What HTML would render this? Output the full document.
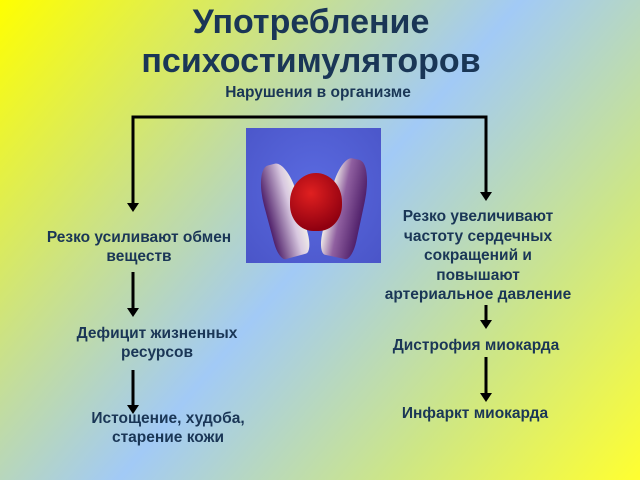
<!DOCTYPE html>
<html><head><meta charset="utf-8"><style>
body{margin:0;width:640px;height:480px;overflow:hidden;font-family:"Liberation Sans",Arial,sans-serif;font-weight:bold;color:#1a3656;
background:linear-gradient(130deg,#ffff00 0%,#d6e868 22%,#a2caf6 50%,#cde686 76%,#ffff30 100%);position:relative}
.t{position:absolute;text-align:center;white-space:nowrap;transform:translateX(-50%)}
.s{font-size:15.5px;line-height:19px}
</style></head><body>
<div class="t" style="left:311px;top:3px;font-size:34px;line-height:39px;">Употребление<br>психостимуляторов</div>
<div class="t s" style="left:318px;top:83px;">Нарушения в организме</div>
<div style="position:absolute;left:246px;top:128px;width:135px;height:135px;background:radial-gradient(ellipse at 50% 45%,#5a6ae0,#4a55c8);overflow:hidden">
<div style="position:absolute;left:20px;top:35px;width:35px;height:95px;border-radius:40% 40% 20% 20%;background:linear-gradient(90deg,#50206a,#d8c8e0 70%,#f0ece8);transform:rotate(-15deg)"></div>
<div style="position:absolute;left:82px;top:30px;width:35px;height:100px;border-radius:40% 40% 20% 20%;background:linear-gradient(270deg,#50206a,#9060a0 60%,#f0ece8);transform:rotate(12deg)"></div>
<div style="position:absolute;left:44px;top:45px;width:52px;height:58px;border-radius:50% 50% 45% 45%;background:radial-gradient(circle at 40% 35%,#e02020,#900010 75%)"></div>
</div>
<svg width="640" height="480" style="position:absolute;left:0;top:0" stroke="#000" stroke-width="3" fill="none">
<polyline points="133,205 133,117 486,117 486,194"/>
<line x1="133" y1="272" x2="133" y2="310"/>
<line x1="133" y1="370" x2="133" y2="407"/>
<line x1="486" y1="305" x2="486" y2="322"/>
<line x1="486" y1="357" x2="486" y2="395"/>
<g fill="#000" stroke="none">
<polygon points="127,203 139,203 133,212"/>
<polygon points="480,192 492,192 486,201"/>
<polygon points="127,308 139,308 133,317"/>
<polygon points="127,405 139,405 133,414"/>
<polygon points="480,320 492,320 486,329"/>
<polygon points="480,393 492,393 486,402"/>
</g></svg>
<div class="t s" style="left:139px;top:228px;">Резко усиливают обмен<br>веществ</div>
<div class="t s" style="left:157px;top:324px;">Дефицит жизненных<br>ресурсов</div>
<div class="t s" style="left:168px;top:409px;">Истощение, худоба,<br>старение кожи</div>
<div class="t s" style="left:478px;top:207px;line-height:19.5px">Резко увеличивают<br>частоту сердечных<br>сокращений и<br>повышают<br>артериальное давление</div>
<div class="t s" style="left:476px;top:336px;">Дистрофия миокарда</div>
<div class="t s" style="left:475px;top:404px;">Инфаркт миокарда</div>
</body></html>
